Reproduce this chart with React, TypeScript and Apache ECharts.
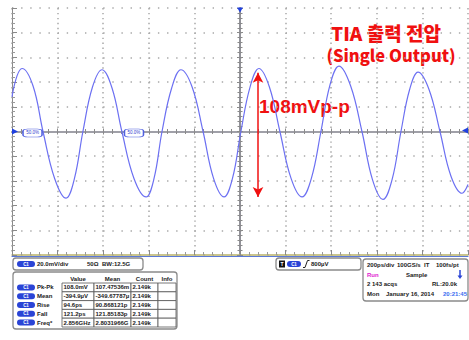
import React, { useEffect, useRef } from "react";
import * as echarts from "echarts";

// Waveform: time (ps) and voltage (mV)
const timePs = [
  -1000, -978, -956, -908, -864, -813, -763, -726, -689, -647, -605, -561, -518, -465, -412, -377,
  -342, -300, -259, -210, -162, -116, -70, -33, 4, 44, 83, 129, 175, 224, 272, 313, 355, 395, 434,
  485, 535, 581, 627, 667, 706, 744, 781, 829, 877, 925, 974, 1000,
];
const voltMv = [
  28, 45, 51, 37, 0, -38, -54, -38, 0, 36, 50, 35, 0, -38, -53, -38,
  0, 35, 50, 36, 0, -38, -53, -38, 0, 36, 51, 36, 0, -38, -53, -38, 0, 38, 53,
  37, 0, -39, -55, -39, 0, 34, 48, 34, 0, -36, -50, -43,
];

// Annotation arrow (peak-to-peak), in data units
const arrowTimePs = 79;
const arrowTopMv = 47.5;
const arrowBottomMv = -53;

// Reference-level tags on the centre line
const tagTimesPs = [-910, -465];
const tagLabel = "50.0%";

// Measurement table
const measNames = ["Pk-Pk", "Mean", "Rise", "Fall", "Freq*"];
const measValues = ["108.0mV", "-394.9µV", "94.6ps", "121.2ps", "2.856GHz"];
const measMeans = ["107.47536m", "-349.67787µ", "90.868121p", "121.85183p", "2.8031966G"];
const measCounts = ["2.149k", "2.149k", "2.149k", "2.149k", "2.149k"];
const tableHeaders = ["Value", "Mean", "Count", "Info"];

const FONT = "Liberation Sans";
const BLUE = "#2a44d6";
const GRID_DOT = "#a8a8a8";

function txt(x: number, y: number, s: string, o: any = {}) {
  const align = o.align || "left";
  return {
    type: "text",
    x,
    y,
    silent: true,
    style: {
      text: s,
      fontSize: o.fontSize || 6,
      fontWeight: o.fontWeight || "bold",
      fontFamily: o.fontFamily || FONT,
      fill: o.fill || "#222",
      align,
      textAlign: align,
      verticalAlign: "middle",
      textVerticalAlign: "middle",
    },
  };
}

function box(x: number, y: number, w: number, h: number) {
  return {
    type: "rect",
    silent: true,
    shape: { x, y, width: w, height: h, r: 3 },
    style: { fill: "#fff", stroke: "#8a8a8a", lineWidth: 1.3 },
  };
}

function pill(x: number, cy: number, w = 18) {
  return [
    {
      type: "rect",
      silent: true,
      shape: { x, y: cy - 3, width: w, height: 6, r: 3 },
      style: { fill: BLUE },
    },
    txt(x + w / 2, cy, "C1", { fill: "#fff", fontSize: 4.5, align: "center" }),
  ];
}

export default function App() {
  const ref = useRef<HTMLDivElement>(null);

  useEffect(() => {
    if (!ref.current) return;
    const chart = echarts.init(ref.current, undefined, { renderer: "svg" });

    const graphics: any[] = [];
    // Channel box
    graphics.push(box(13, 258, 130, 12));
    graphics.push(...pill(17, 264));
    graphics.push(txt(37, 264, "20.0mV/div"));
    graphics.push(txt(87, 264, "50Ω"));
    graphics.push(txt(102, 264, "BW:12.5G"));

    // Measurement table
    graphics.push(box(13, 272, 164, 57));
    const colX = [62, 94, 131, 158, 176];
    const rowTop = 283;
    const rowH = 8.8;
    tableHeaders.forEach((h, i) => {
      graphics.push(txt((colX[i] + colX[i + 1]) / 2, 278.5, h, { align: "center" }));
    });
    measNames.forEach((name, r) => {
      const cy = rowTop + rowH * r + rowH / 2;
      graphics.push(...pill(17, cy));
      graphics.push(txt(37, cy, name));
      const cells = [measValues[r], measMeans[r], measCounts[r], ""];
      cells.forEach((c, i) => {
        graphics.push({
          type: "rect",
          silent: true,
          shape: { x: colX[i], y: rowTop + rowH * r, width: colX[i + 1] - colX[i], height: rowH },
          style: { fill: "#fff", stroke: "#555", lineWidth: 0.8 },
        });
        if (c) graphics.push(txt(colX[i] + 1.5, cy, c));
      });
    });

    // Trigger box
    graphics.push(box(276, 258, 85, 12));
    graphics.push({
      type: "rect",
      silent: true,
      shape: { x: 279, y: 260.5, width: 6, height: 7 },
      style: { fill: "#111" },
    });
    graphics.push(txt(282, 264, "T", { fill: "#fff", fontSize: 5, align: "center" }));
    graphics.push(...pill(287, 264, 14));
    graphics.push({
      type: "polyline",
      silent: true,
      shape: { points: [[303, 267.5], [305, 267.5], [307.5, 260.5], [309.5, 260.5]] },
      style: { stroke: "#222", lineWidth: 1, fill: null },
    });
    graphics.push(txt(311, 264, "800µV"));

    // Timebase box
    graphics.push(box(363, 259, 105, 42));
    graphics.push(txt(367, 265, "200ps/div"));
    graphics.push(txt(397, 265, "100GS/s"));
    graphics.push(txt(424, 265, "IT"));
    graphics.push(txt(436, 265, "100fs/pt"));
    graphics.push(txt(367, 274.5, "Run", { fill: "#e020d0" }));
    graphics.push(txt(406, 274.5, "Sample"));
    graphics.push({
      type: "line",
      silent: true,
      shape: { x1: 460, y1: 270, x2: 460, y2: 277 },
      style: { stroke: BLUE, lineWidth: 1.5 },
    });
    graphics.push({
      type: "polygon",
      silent: true,
      shape: { points: [[457.5, 275.5], [462.5, 275.5], [460, 279]] },
      style: { fill: BLUE },
    });
    graphics.push(txt(367, 284, "2 143 acqs"));
    graphics.push(txt(432, 284, "RL:20.0k"));
    graphics.push(txt(367, 293.5, "Mon"));
    graphics.push(txt(386, 293.5, "January 16, 2014"));
    graphics.push(txt(443, 293.5, "20:21:45", { fill: "#3a6cf0" }));

    // Red annotations
    graphics.push(
      txt(386, 32, "TIA 출력 전압", {
        fill: "#f01010",
        fontSize: 19,
        fontWeight: 900,
        fontFamily: "Noto Sans CJK KR",
        align: "center",
      })
    );
    graphics.push(
      txt(391, 55, "(Single Output)", {
        fill: "#f01010",
        fontSize: 16.5,
        fontWeight: 900,
        fontFamily: "Noto Sans CJK KR",
        align: "center",
      })
    );
    graphics.push(
      txt(259, 106, "108mVp-p", { fill: "#f01010", fontSize: 19, fontFamily: FONT })
    );

    const baseX = {
      type: "value",
      min: -1000,
      max: 1000,
      interval: 200,
      axisLabel: { show: false },
    };
    const baseY = {
      type: "value",
      min: -100,
      max: 100,
      interval: 20,
      axisLabel: { show: false },
    };
    const centerTick = { show: true, length: 3, lineStyle: { color: "#8a8a8a", width: 1 } };
    const centerMinor = { show: true, splitNumber: 5, length: 2.5, lineStyle: { color: "#8a8a8a", width: 1 } };

    chart.setOption({
      animation: false,
      backgroundColor: "#ffffff",
      grid: { left: 12, top: 8, width: 456, height: 247, outerBoundsMode: "none" },
      xAxis: [
        {
          ...baseX,
          position: "bottom",
          axisLine: { show: true, onZero: false, lineStyle: { color: "#b9b36a", width: 1.5 } },
          axisTick: { show: true, inside: true, length: 5, lineStyle: { color: "#8a8a8a" } },
          minorTick: { show: true, splitNumber: 5, length: 3, lineStyle: { color: "#9a9a9a" } },
          splitLine: {
            show: true,
            lineStyle: { color: GRID_DOT, width: 1.5, type: [1.4, 3.54] },
          },
        },
        {
          ...baseX,
          position: "top",
          axisLine: { show: true, onZero: true, onZeroAxisIndex: 0, lineStyle: { color: "#9a9aa2", width: 1.5 } },
          axisTick: centerTick,
          minorTick: centerMinor,
          splitLine: { show: false },
        },
        {
          ...baseX,
          position: "bottom",
          axisLine: { show: true, onZero: true, onZeroAxisIndex: 0, lineStyle: { color: "#9a9aa2", width: 1.5 } },
          axisTick: centerTick,
          minorTick: centerMinor,
          splitLine: { show: false },
        },
        {
          ...baseX,
          position: "bottom",
          offset: 1.5,
          axisLine: { show: true, onZero: false, lineStyle: { color: "#5a78d8", width: 1.2 } },
          axisTick: { show: false },
          splitLine: { show: false },
        },
      ],
      yAxis: [
        {
          ...baseY,
          position: "left",
          axisLine: { show: true, onZero: false, lineStyle: { color: "#8a8a8a", width: 1 } },
          axisTick: { show: true, inside: true, length: 5, lineStyle: { color: "#8a8a8a" } },
          minorTick: { show: true, splitNumber: 5, length: 3, lineStyle: { color: "#9a9a9a" } },
          splitLine: {
            show: true,
            lineStyle: { color: GRID_DOT, width: 1.5, type: [1.4, 7.72] },
          },
        },
        {
          ...baseY,
          position: "left",
          axisLine: { show: true, onZero: true, onZeroAxisIndex: 0, lineStyle: { color: "#8a8a92", width: 1.5 } },
          axisTick: centerTick,
          minorTick: centerMinor,
          splitLine: { show: false },
        },
        {
          ...baseY,
          position: "right",
          axisLine: { show: true, onZero: true, onZeroAxisIndex: 0, lineStyle: { color: "#8a8a92", width: 1.5 } },
          axisTick: centerTick,
          minorTick: centerMinor,
          splitLine: { show: false },
        },
      ],
      series: [
        {
          type: "line",
          xAxisIndex: 0,
          yAxisIndex: 0,
          data: timePs.map((t, i) => [t, voltMv[i]]),
          smooth: 0.4,
          showSymbol: false,
          symbol: "none",
          silent: true,
          lineStyle: { color: "#6c70f2", width: 1.2 },
          markLine: {
            silent: true,
            symbol: ["arrow", "arrow"],
            symbolSize: [8, 10],
            label: { show: false },
            lineStyle: { color: "#f01010", width: 1.5, type: "solid" },
            data: [
              [
                { coord: [arrowTimePs, arrowTopMv] },
                { coord: [arrowTimePs, arrowBottomMv] },
              ],
            ],
          },
          markPoint: {
            silent: true,
            label: { show: false },
            data: [
              {
                coord: [0, 100],
                symbol: "triangle",
                symbolSize: [6, 5],
                symbolRotate: 180,
                symbolOffset: [0, 2],
                itemStyle: { color: "#2040e0" },
              },
              {
                coord: [-1000, 0],
                symbol: "triangle",
                symbolSize: [6, 6],
                symbolRotate: -90,
                symbolOffset: [3, 0],
                itemStyle: { color: "#2040e0" },
              },
              {
                coord: [1000, 0.8],
                symbol: "triangle",
                symbolSize: [6, 6],
                symbolRotate: 90,
                symbolOffset: [-3, 0],
                itemStyle: { color: "#2040e0" },
              },
              ...tagTimesPs.map((t) => ({
                coord: [t, -1.2],
                symbol: "roundRect",
                symbolSize: [19, 8],
                itemStyle: { color: "#ffffff", borderColor: "#5060e0", borderWidth: 1 },
                label: {
                  show: true,
                  position: "inside",
                  formatter: tagLabel,
                  fontSize: 4.5,
                  color: "#3040d0",
                  fontFamily: FONT,
                },
              })),
            ],
          },
        },
      ],
      graphic: { elements: graphics },
    });

    return () => chart.dispose();
  }, []);

  return (
    <div
      ref={ref}
      style={{ position: "fixed", left: 0, top: 0, width: 469, height: 340, background: "#fff" }}
    />
  );
}
